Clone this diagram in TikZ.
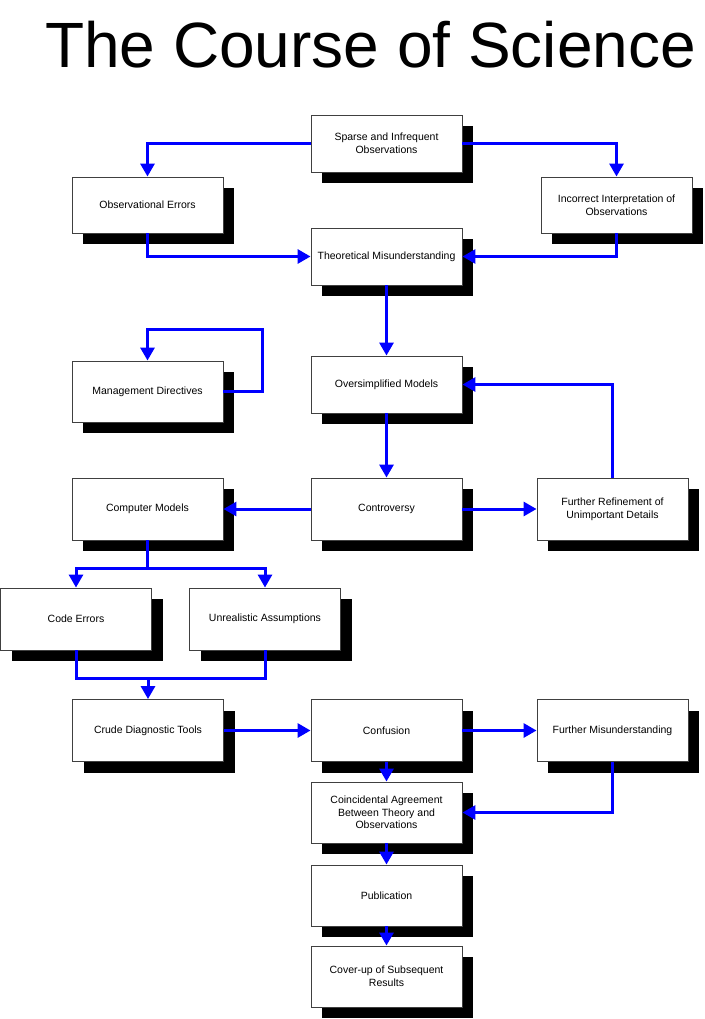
\documentclass[tikz,border=0pt]{standalone}
\usepackage{fontspec}
\setmainfont{Liberation Sans}
\usetikzlibrary{arrows.meta,shadows}
\definecolor{arrblue}{RGB}{0,0,255}
\tikzset{
  box/.style={draw=black!75, line width=0.9pt, fill=white, minimum width=151pt,
    align=center, inner sep=0pt,
    font=\fontsize{10.5}{12.7}\selectfont,
    drop shadow={shadow xshift=11pt, shadow yshift=-11pt, opacity=1, fill=black}},
  conn/.style={draw=arrblue, line width=3pt,
    -{Triangle[length=13pt,width=14pt]}},
  link/.style={draw=arrblue, line width=3pt}
}
\begin{document}
\begin{tikzpicture}[x=1pt,y=-1pt]
\useasboundingbox (0,0) rectangle (704,1019);
\node[inner sep=0pt, anchor=base, font=\fontsize{64}{70}\selectfont] (title) at (370.5,68) {The Course of Science};

\node[box, minimum height=57pt] (sparse) at (386.5,143.5) {Sparse and Infrequent\\Observations};
\node[box, minimum height=56pt] (obs) at (147.5,205) {Observational Errors};
\node[box, minimum height=56pt] (inc) at (616.5,205) {Incorrect Interpretation of\\Observations};
\node[box, minimum height=57pt] (theo) at (386.5,256.5) {Theoretical Misunderstanding};
\node[box, minimum height=61pt] (mgmt) at (147.5,391.5) {Management Directives};
\node[box, minimum height=57pt] (over) at (386.5,384.5) {Oversimplified Models};
\node[box, minimum height=62pt] (comp) at (147.5,509) {Computer Models};
\node[box, minimum height=62pt] (contr) at (386.5,509) {Controversy};
\node[box, minimum height=62pt] (furref) at (612.5,509) {Further Refinement of\\Unimportant Details};
\node[box, minimum height=62pt] (code) at (76,619) {Code Errors};
\node[box, minimum height=62pt] (unreal) at (265,619) {Unrealistic Assumptions};
\node[box, minimum height=62pt] (crude) at (148,730.5) {Crude Diagnostic Tools};
\node[box, minimum height=62pt] (conf) at (386.5,730.5) {Confusion};
\node[box, minimum height=62pt] (furmis) at (612.5,730.5) {Further Misunderstanding};
\node[box, minimum height=61pt] (coinc) at (386.5,812.5) {Coincidental Agreement\\Between Theory and\\Observations};
\node[box, minimum height=61pt] (pub) at (386.5,895.5) {Publication};
\node[box, minimum height=61pt] (cover) at (386.5,976.5) {Cover-up of Subsequent\\Results};

\coordinate (mloop) at (262,329);
\coordinate (csplit) at (147.5,568);
\coordinate (cmerge) at (148,678);

\draw[conn] (sparse.west) -| (obs.north);
\draw[conn] (sparse.east) -| (inc.north);
\draw[conn] (obs.south) |- (theo.west);
\draw[conn] (inc.south) |- (theo.east);
\draw[conn] (theo.south) -- (over.north);
\draw[conn] (mgmt.east) -| (mloop) -| (mgmt.north);
\draw[conn] (over.south) -- (contr.north);
\draw[conn] (furref.north) |- (over.east);
\draw[conn] (contr.west) -- (comp.east);
\draw[conn] (contr.east) -- (furref.west);
\draw[link] (comp.south) -- (csplit);
\draw[conn] (csplit) -| (code.north);
\draw[conn] (csplit) -| (unreal.north);
\draw[link] (code.south) |- (cmerge);
\draw[link] (unreal.south) |- (cmerge);
\draw[conn] (cmerge) -- (crude.north);
\draw[conn] (crude.east) -- (conf.west);
\draw[conn] (conf.east) -- (furmis.west);
\draw[conn] (conf.south) -- (coinc.north);
\draw[conn] (furmis.south) |- (coinc.east);
\draw[conn] (coinc.south) -- (pub.north);
\draw[conn] (pub.south) -- (cover.north);
\end{tikzpicture}
\end{document}
